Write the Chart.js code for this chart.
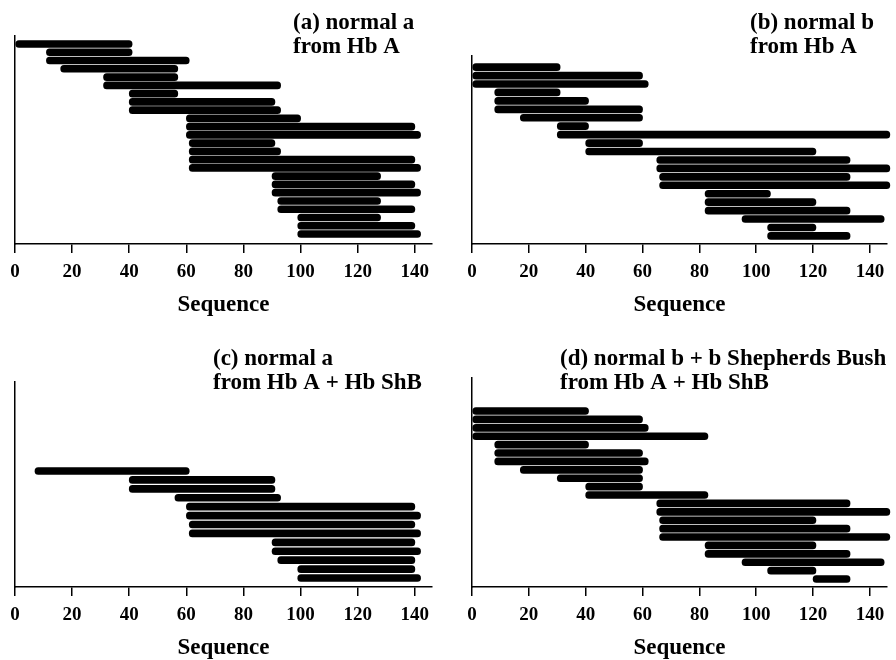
<!DOCTYPE html>
<html>
<head>
<meta charset="utf-8">
<script src="https://cdn.jsdelivr.net/npm/chart.js@4.4.1/dist/chart.umd.min.js"></script>
<style>
  html, body { margin: 0; padding: 0; background: #fff; overflow: hidden; }
  #page { position: relative; width: 896px; height: 660px; }
  canvas { position: absolute; }
</style>
</head>
<body>
<div id="page">
  <canvas id="chartA" width="448" height="319" style="left:0;top:0"></canvas>
  <canvas id="chartB" width="448" height="319" style="left:448px;top:0"></canvas>
  <canvas id="chartC" width="448" height="332" style="left:0;top:330px"></canvas>
  <canvas id="chartD" width="448" height="332" style="left:448px;top:330px"></canvas>
</div>
<script>
// peptide fragments: start and end residue for each bar, top to bottom
const aStarts = [0, 11, 11, 16, 31, 31, 40, 40, 40, 60, 60, 60, 61, 61, 61, 61, 90, 90, 90, 92, 92, 99, 99, 99]
const aEnds   = [41, 41, 61, 57, 57, 93, 57, 91, 93, 100, 140, 142, 91, 93, 140, 142, 128, 140, 142, 128, 140, 128, 140, 142]

const bStarts = [0, 0, 0, 8, 8, 8, 17, 30, 30, 40, 40, 65, 65, 66, 66, 82, 82, 82, 95, 104, 104]
const bEnds   = [31, 60, 62, 31, 41, 60, 60, 41, 147, 60, 121, 133, 147, 133, 147, 105, 121, 133, 145, 121, 133]

const cStarts = [7, 40, 40, 56, 60, 60, 61, 61, 90, 90, 92, 99, 99]
const cEnds   = [61, 91, 91, 93, 140, 142, 140, 142, 140, 142, 140, 140, 142]

const dStarts = [0, 0, 0, 0, 8, 8, 8, 17, 30, 40, 40, 65, 65, 66, 66, 66, 82, 82, 95, 104, 120]
const dEnds   = [41, 60, 62, 83, 41, 60, 62, 60, 60, 60, 83, 133, 147, 121, 133, 147, 121, 133, 145, 121, 133]

const xTicks = [0, 20, 40, 60, 80, 100, 120, 140]

const panelTitles = {
    a: ['(a) normal a', 'from Hb A'],
    b: ['(b) normal b', 'from Hb A'],
    c: ['(c) normal a', 'from Hb A + Hb ShB'],
    d: ['(d) normal b + b Shepherds Bush', 'from Hb A + Hb ShB']
}

const serif = "'Liberation Serif', 'DejaVu Serif', serif"

// text drawn inside the plot, top right
const titlePlugin = {
    id: 'panelTitle',
    afterDraw(chart, args, opts) {
        const ctx = chart.ctx
        ctx.save()
        ctx.font = 'bold 23px ' + serif
        ctx.fillStyle = '#000'
        ctx.textBaseline = 'middle'
        opts.lines.forEach((line, i) => ctx.fillText(line, opts.x, opts.y + i * 24))
        ctx.restore()
    }
}

function drawPanel(id, starts, ends, box) {
    return new Chart(document.getElementById(id), {
        type: 'bar',
        data: {
            datasets: [{
                data: starts.map((s, i) => ({ x: [s, ends[i]], y: i })),
                backgroundColor: '#000',
                barThickness: 7,
                borderRadius: 4,
                borderSkipped: false,
                clip: false
            }]
        },
        plugins: [titlePlugin],
        options: {
            indexAxis: 'y',
            responsive: false,
            animation: false,
            layout: { padding: { left: box.left, right: box.right, top: box.top, bottom: 0 } },
            plugins: {
                legend: { display: false },
                tooltip: { enabled: false },
                panelTitle: { lines: box.title, x: box.tx, y: box.ty }
            },
            scales: {
                x: {
                    type: 'linear',
                    min: 0,
                    max: 146,
                    ticks: { padding: 8, color: '#000', font: { family: serif, size: 19, weight: 'bold' } },
                    afterBuildTicks: scale => { scale.ticks = xTicks.map(v => ({ value: v })) },
                    afterFit: scale => { scale.height = 75 },
                    grid: { drawOnChartArea: false, drawTicks: true, tickLength: 9, color: '#000', lineWidth: 1.5 },
                    border: { color: '#000', width: 1.5 },
                    title: { display: true, text: 'Sequence', color: '#000', padding: 0, font: { family: serif, size: 23, weight: 'bold' } }
                },
                y: {
                    type: 'linear',
                    reverse: true,
                    offset: false,
                    min: box.ymin,
                    max: box.ymax,
                    ticks: { display: false },
                    grid: { display: false },
                    afterFit: scale => { scale.width = 0 },
                    border: { color: '#000', width: 1.5 }
                }
            }
        }
    })
}

drawPanel('chartA', aStarts, aEnds, { left: 15, right: 16, top: 36, ymin: -0.97, ymax: 24.21, title: panelTitles.a, tx: 293, ty: 23 })
drawPanel('chartB', bStarts, bEnds, { left: 24, right: 9, top: 56, ymin: -1.32, ymax: 20.96, title: panelTitles.b, tx: 302, ty: 23 })
drawPanel('chartC', cStarts, cEnds, { left: 15, right: 16, top: 52, ymin: -9.98, ymax: 13.01, title: panelTitles.c, tx: 213, ty: 29 })
drawPanel('chartD', dStarts, dEnds, { left: 24, right: 9, top: 48, ymin: -3.93, ymax: 20.95, title: panelTitles.d, tx: 112, ty: 29 })
</script>
</body>
</html>
